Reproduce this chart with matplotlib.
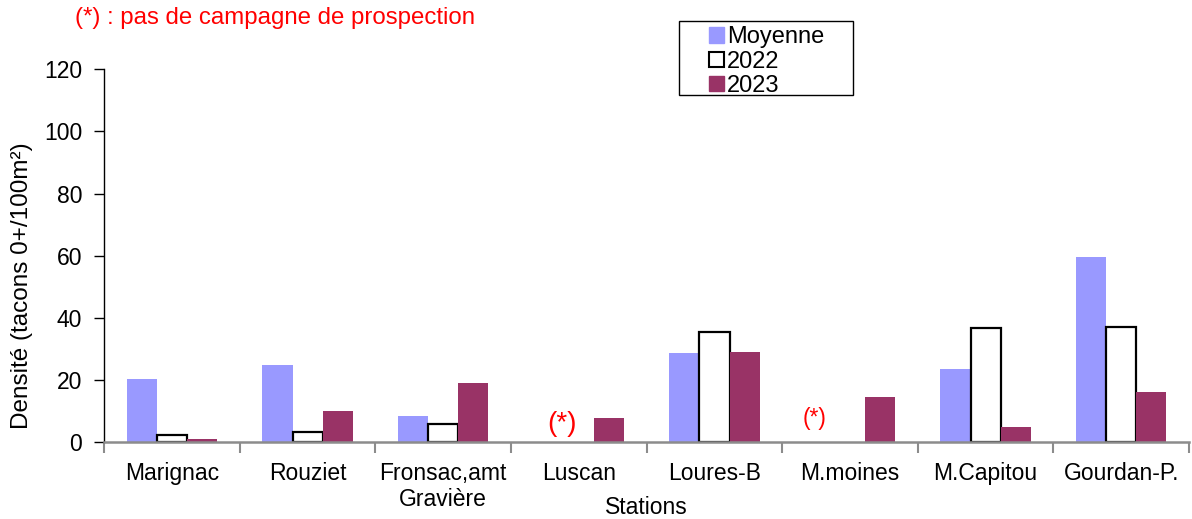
import matplotlib
matplotlib.use("Agg")
import matplotlib.pyplot as plt
import numpy as np
from matplotlib.patches import Rectangle, Patch

plt.rcParams['font.family'] = ['Liberation Sans', 'DejaVu Sans']

stations = ["Marignac", "Rouziet", "Fronsac,amt\nGravière", "Luscan",
            "Loures-B", "M.moines", "M.Capitou", "Gourdan-P."]
moyenne = [20.3, 25.0, 8.5, np.nan, 28.6, np.nan, 23.5, 59.5]
v2022 = [2.4, 3.2, 6.0, np.nan, 35.5, np.nan, 36.8, 37.2]
v2023 = [1.0, 10.1, 19.2, 7.8, 29.2, 14.5, 4.9, 16.1]
yticks = [0, 20, 40, 60, 80, 100, 120]

c_moy = "#9999ff"
c_2023 = "#993366"
gray = "#8c8c8c"

fig = plt.figure(figsize=(11.92, 5.19), dpi=100)
ax = fig.add_axes([0.0875, 0.1478, 0.9100, 0.7187])

x = np.arange(len(stations))
w = 1 / 4.5
ax.bar(x - w, moyenne, w, color=c_moy, zorder=1)
ax.bar(x, v2022, w, color="white", edgecolor="black", linewidth=1.6, zorder=1)
ax.bar(x + w, v2023, w, color=c_2023, zorder=1)

ax.set_xlim(-0.5, len(stations) - 0.5)
ax.set_ylim(0, 120)
ax.set_yticks(yticks)
ax.tick_params(axis='y', labelsize=16.5, length=7, width=1, pad=9, color="black")

ax.set_xticks(x)
ax.set_xticklabels(stations, fontsize=16.5)
ax.set_xticks(np.arange(len(stations) + 1) - 0.5, minor=True)
ax.tick_params(axis='x', which='major', length=0, pad=14)
ax.tick_params(axis='x', which='minor', length=8, width=1.5, color=gray)

for s in ["top", "right"]:
    ax.spines[s].set_visible(False)
ax.spines["bottom"].set_color(gray)
ax.spines["bottom"].set_linewidth(1.8)
ax.spines["left"].set_color("black")
ax.spines["left"].set_linewidth(1)

ax.set_xlabel("Stations", fontsize=16.5)
ax.xaxis.set_label_coords(0.5, -0.176)
ax.xaxis.label.set_va("center")
ax.set_ylabel("Densité (tacons 0+/100m²)", fontsize=17.5)
ax.yaxis.set_label_coords(-0.0759, 0.419)
ax.yaxis.label.set_va("center")

# stations sans campagne
ax.text(3 - 0.127, 5.9, "(*)", color="red", fontsize=20, ha="center", va="center")
ax.text(5 - 0.259, 7.5, "(*)", color="red", fontsize=16.5, ha="center", va="center")

fig.text(75 / 1192, 1 - 18 / 519, "(*) : pas de campagne de prospection",
         color="red", fontsize=17.3, ha="left", va="center")

# legende
fig.patches.append(Rectangle((679 / 1192, 1 - 95 / 519), 174 / 1192, 74 / 519,
                             transform=fig.transFigure, facecolor="white",
                             edgecolor="black", linewidth=1))
handles = [Patch(facecolor=c_moy, edgecolor=c_moy),
           Patch(facecolor="white", edgecolor="black", linewidth=1.5),
           Patch(facecolor=c_2023, edgecolor=c_2023)]
fig.legend(handles, ["Moyenne", "2022", "2023"], loc="upper left",
           bbox_to_anchor=(695 / 1192, 1 - 12 / 519), frameon=False,
           fontsize=17, handlelength=0.62, handleheight=0.62,
           handletextpad=0.15, labelspacing=0.1, borderpad=0.1)

fig.savefig("out.png", dpi=100)
